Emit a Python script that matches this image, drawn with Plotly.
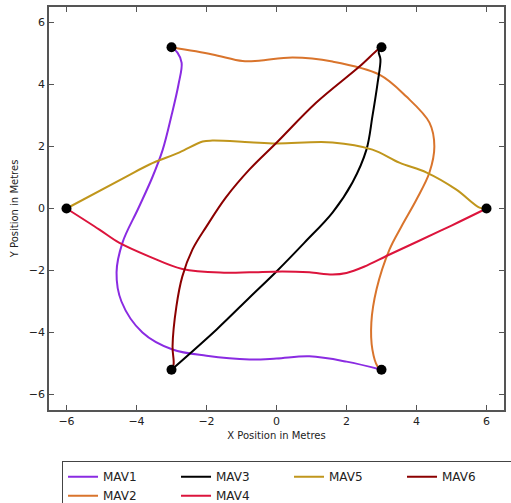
import plotly.graph_objects as go

mav1_x = [3.0, 2.0, 0.94, 0.0, -0.77, -2.0, -2.97, -3.83, -4.43, -4.57, -4.4, -3.95, -3.55, -3.25, -3.0, -2.8, -2.71, -2.83, -3.0]
mav1_y = [-5.2, -4.94, -4.77, -4.84, -4.87, -4.75, -4.55, -4.0, -3.0, -2.06, -1.1, 0.0, 1.0, 1.9, 3.0, 4.0, 4.7, 5.03, 5.2]

mav2_x = [-3.0, -1.83, -0.97, -0.5, 0.46, 1.6, 2.94, 3.71, 4.37, 4.51, 4.37, 4.0, 3.57, 3.23, 2.86, 2.71, 2.74, 2.89, 3.0]
mav2_y = [5.2, 4.97, 4.76, 4.77, 4.87, 4.74, 4.32, 3.61, 2.77, 2.0, 1.16, 0.29, -0.58, -1.32, -2.6, -3.68, -4.55, -5.1, -5.2]

mav3_x = [-3.0, -1.71, -0.77, 0.0, 0.8, 1.6, 2.17, 2.57, 2.74, 2.89, 2.97, 2.92, 3.0]
mav3_y = [-5.2, -3.9, -2.87, -2.03, -1.1, -0.13, 0.84, 1.9, 2.97, 4.06, 4.81, 5.06, 5.2]

mav4_x = [6.0, 5.0, 4.0, 3.2, 2.5, 2.0, 1.6, 0.94, 0.17, -0.77, -1.5, -2.69, -3.63, -4.5, -5.06, -6.0]
mav4_y = [0.0, -0.55, -1.08, -1.5, -1.88, -2.08, -2.13, -2.06, -2.03, -2.06, -2.07, -1.95, -1.55, -1.1, -0.68, 0.0]

mav5_x = [-6.0, -4.29, -3.63, -2.77, -2.11, -1.83, -0.77, 0.0, 1.6, 2.74, 3.51, 4.29, 5.14, 5.8, 6.0]
mav5_y = [0.0, 1.03, 1.42, 1.81, 2.16, 2.19, 2.14, 2.1, 2.13, 1.9, 1.48, 1.16, 0.61, 0.03, 0.0]

mav6_x = [3.0, 2.9, 2.37, 1.13, 0.0, -0.77, -1.45, -1.99, -2.4, -2.69, -2.86, -2.97, -2.94, -3.0]
mav6_y = [5.2, 5.13, 4.58, 3.41, 2.12, 1.26, 0.35, -0.56, -1.32, -2.19, -3.16, -4.45, -5.03, -5.2]

vert_x = [-3.0, 3.0, -6.0, 6.0, -3.0, 3.0]
vert_y = [5.2, 5.2, 0.0, 0.0, -5.2, -5.2]

names = ["MAV1", "MAV2", "MAV3", "MAV4", "MAV5", "MAV6"]
xs = [mav1_x, mav2_x, mav3_x, mav4_x, mav5_x, mav6_x]
ys = [mav1_y, mav2_y, mav3_y, mav4_y, mav5_y, mav6_y]
colors = ["#8A2BE2", "#D9742C", "#000000", "#DC143C", "#C0961C", "#8B0000"]
ranks = [1, 5, 2, 6, 3, 4]

fig = go.Figure()
for n, x, y, c, r in zip(names, xs, ys, colors, ranks):
    fig.add_trace(go.Scatter(x=x, y=y, mode="lines", name=n,
                             line=dict(color=c, width=2, shape="spline", smoothing=1.0),
                             legendrank=r))
fig.add_trace(go.Scatter(x=vert_x, y=vert_y, mode="markers", showlegend=False,
                         marker=dict(color="black", size=10)))

axis_common = dict(range=[-6.5, 6.5], dtick=2, ticks="inside", ticklen=5, tickcolor="#555",
                   showline=True, linecolor="#555", linewidth=1.5, mirror="ticks",
                   showgrid=False, zeroline=False,
                   tickfont=dict(family="DejaVu Sans", size=11, color="#222"))
fig.update_xaxes(**axis_common, title=dict(text="X Position in Metres",
                 font=dict(family="DejaVu Sans", size=10, color="#222"), standoff=5))
fig.update_yaxes(**axis_common, title=dict(text="Y Position in Metres",
                 font=dict(family="DejaVu Sans", size=10, color="#222"), standoff=8))

fig.update_layout(
    width=511, height=503, autosize=False,
    margin=dict(l=49, r=7, t=7, b=93, autoexpand=False),
    plot_bgcolor="white", paper_bgcolor="white",
    legend=dict(orientation="h", x=0.0286, xanchor="left", y=-0.127, yanchor="top",
                entrywidth=68, entrywidthmode="pixels",
                bordercolor="#444", borderwidth=1, tracegroupgap=0,
                font=dict(family="DejaVu Sans", size=12, color="#222")),
)
fig.write_html("out.html")
